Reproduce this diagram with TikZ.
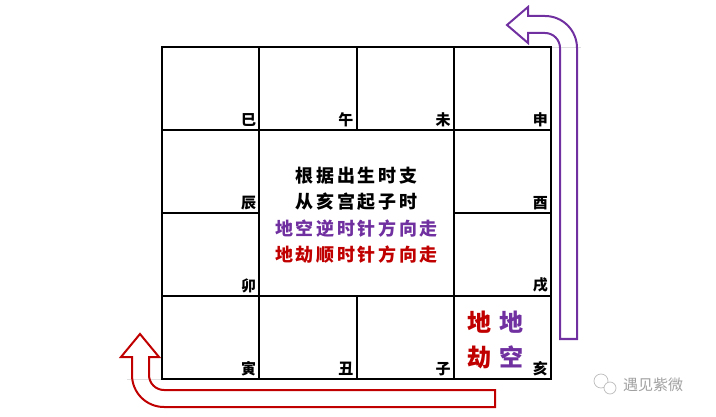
\documentclass[tikz,border=0pt]{standalone}
\usepackage{fontspec}
\usetikzlibrary{positioning}
\newfontfamily\cjk{Noto Sans CJK SC}
\definecolor{kongpurple}{HTML}{7030A0}
\definecolor{jiered}{HTML}{C00000}
\definecolor{markgray}{HTML}{A0A0A0}

\begin{document}
\begin{tikzpicture}[x=1pt, y=-1pt,
    cell/.style={draw, line width=2pt, minimum width=97.25pt, minimum height=83pt, inner sep=0pt, outer sep=0pt},
    branch/.style={anchor=south east, inner sep=3pt, font=\cjk\bfseries\fontsize{15}{15}\selectfont},
    star/.style={align=center, inner sep=0pt, font=\cjk\bfseries\fontsize{24}{35}\selectfont},
    turn/.style={line width=2pt, line join=miter}]
    \useasboundingbox (0,0) rectangle (716,417);
    \draw[gray!25, line width=0.8pt] (551,47) -- (581,47) (127,379) -- (162,379);
    \node[cell, anchor=north west] (si) at (162,47) {};
    \node[cell, right=0pt of si] (wu) {};
    \node[cell, right=0pt of wu] (wei) {};
    \node[cell, right=0pt of wei] (shen) {};
    \node[cell, below=0pt of si] (chen) {};
    \node[cell, below=0pt of chen] (mao) {};
    \node[cell, below=0pt of mao] (yin) {};
    \node[cell, below=0pt of shen] (you) {};
    \node[cell, below=0pt of you] (xu) {};
    \node[cell, below=0pt of xu] (hai) {};
    \node[cell, right=0pt of yin] (chou) {};
    \node[cell, right=0pt of chou] (zi) {};
    \node[cell, anchor=north west, minimum width=194.5pt, minimum height=166pt] (mid) at (wu.south west) {};
    \node[align=center, inner sep=0pt, font=\cjk\bfseries\fontsize{18}{26.5}\selectfont\addfontfeature{LetterSpace=15}]
      (rule) at ([yshift=-2pt]mid.center)
      {根据出生时支\\从亥宫起子时\\\textcolor{kongpurple}{地空逆时针方向走}\\\textcolor{jiered}{地劫顺时针方向走}};
    \node[branch] (si-l) at (si.south east) {巳};
    \node[branch] (wu-l) at (wu.south east) {午};
    \node[branch] (wei-l) at (wei.south east) {未};
    \node[branch] (shen-l) at (shen.south east) {申};
    \node[branch] (chen-l) at (chen.south east) {辰};
    \node[branch] (you-l) at (you.south east) {酉};
    \node[branch] (mao-l) at (mao.south east) {卯};
    \node[branch] (xu-l) at (xu.south east) {戌};
    \node[branch] (yin-l) at (yin.south east) {寅};
    \node[branch] (chou-l) at (chou.south east) {丑};
    \node[branch] (zi-l) at (zi.south east) {子};
    \node[branch] (hai-l) at (hai.south east) {亥};
    \node[star, text=jiered] (dijie) at ([xshift=-22.5pt, yshift=-2pt]hai.center) {地\\劫};
    \node[star, text=kongpurple] (dikong) at ([xshift=9.5pt, yshift=-2pt]hai.center) {地\\空};
    \draw[turn, kongpurple] (560,339) -- (560,48) arc[start angle=0, end angle=90, radius=15pt]
      -- (528,33) -- (528,43) -- (507,25) -- (528,7) -- (528,16) -- (545,16)
      arc[start angle=90, end angle=0, radius=32pt] -- (577,339) -- cycle;
    \draw[turn, jiered] (495,390) -- (164,390) arc[start angle=270, end angle=180, radius=15pt]
      -- (149,357) -- (159,357) -- (140,334) -- (121,357) -- (132,357) -- (132,375)
      arc[start angle=180, end angle=270, radius=32pt] -- (495,407) -- cycle;
    \draw[markgray!70, line width=0.7pt] (601,381) circle[radius=7pt];
    \draw[markgray!70, line width=0.7pt, fill=white] (610,388) circle[radius=6pt];
    \node[anchor=west, inner sep=0pt, text=markgray, font=\cjk\fontsize{15}{15}\selectfont] (mark) at (623,385) {遇见紫微};
\end{tikzpicture}
\end{document}
